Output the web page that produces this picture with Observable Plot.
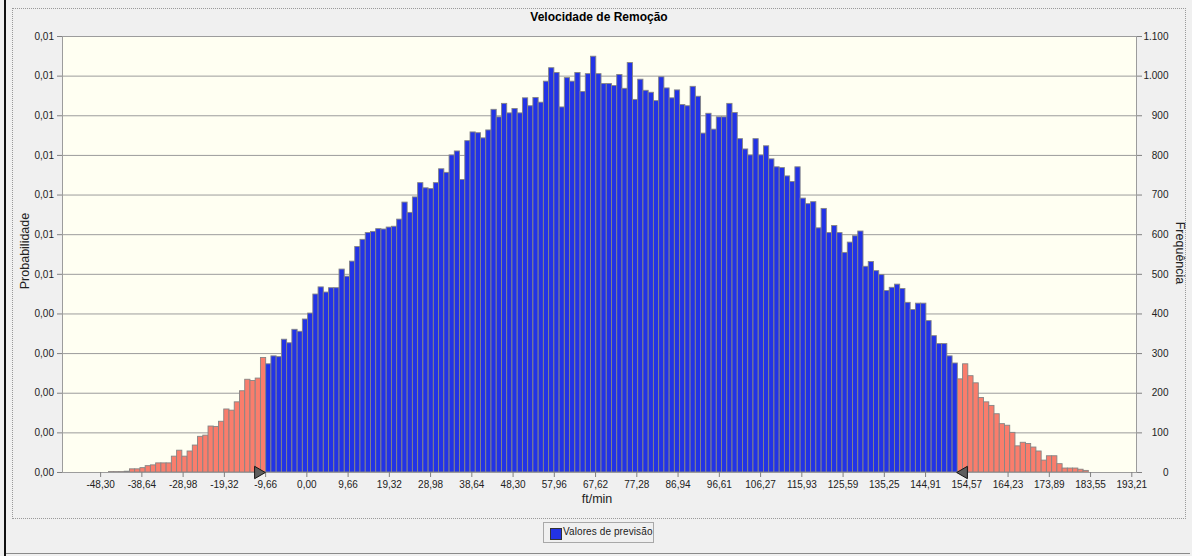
<!DOCTYPE html>
<html>
<head>
<meta charset="utf-8">
<script src="https://cdn.jsdelivr.net/npm/d3@7"></script>
<script src="https://cdn.jsdelivr.net/npm/@observablehq/plot@0.6"></script>
<style>
  html, body { margin: 0; padding: 0; }
  body { width: 1192px; height: 556px; background: #f0f0f0; position: relative; overflow: hidden;
         font-family: "Liberation Sans", Arial, sans-serif; color: #222; }
  .abs { position: absolute; white-space: nowrap; }
  #leftbar { left: 4px; top: 0; width: 2px; height: 556px; background: #111; }
  #frame { left: 12px; top: 8px; width: 1174px; height: 511px; border: 1px dotted #9a9a9a; box-sizing: border-box; }
  #bottomline { left: 6px; top: 553px; width: 1184px; height: 1px; background: #8a8a8a; }
  #title { left: 599px; top: 17px; transform: translate(-50%, -50%); font-weight: bold; font-size: 12px; color: #000; }
  #ylab { left: 25px; top: 251px; transform: translate(-50%, -50%) rotate(-90deg); font-size: 12.5px; }
  #y2lab { left: 1180px; top: 253px; transform: translate(-50%, -50%) rotate(90deg); font-size: 12.5px; }
  #xlab { left: 597px; top: 499px; transform: translate(-50%, -50%); font-size: 12.5px; }
  #chart { left: 0; top: 0; }
  #legend { left: 543px; top: 522px; width: 111px; height: 21px; border: 1px solid #a8a8a8; box-sizing: border-box;
            background: #f0f0f0; font-size: 10px; letter-spacing: 0.1px; }
  #legend .sw { position: absolute; left: 6px; top: 5px; width: 10px; height: 10px; background: #2233e6; border: 1px solid #333; }
  #legend .tx { position: absolute; left: 19px; top: 3px; }
</style>
</head>
<body>
<div class="abs" id="leftbar"></div>
<div class="abs" id="frame"></div>
<div class="abs" id="bottomline"></div>
<div class="abs" id="chart"></div>
<div class="abs" id="title">Velocidade de Remoção</div>
<div class="abs" id="ylab">Probabilidade</div>
<div class="abs" id="y2lab">Frequência</div>
<div class="abs" id="xlab">ft/min</div>
<div class="abs" id="legend"><div class="sw"></div><div class="tx">Valores de previsão</div></div>
<script>
// ---- data ----
const binStart = -46.344;   // lower edge of first bin (ft/min)
const binWidth = 1.2272;    // bin width (ft/min)

// left tail (outside certainty range), 30 bins
const leftTail = [1, 1, 1, 2, 8, 8, 11, 16, 18, 23, 23, 23, 40, 55, 40, 53, 68, 90, 93, 116,
  115, 128, 159, 156, 177, 205, 234, 231, 237, 289];

// certainty range, 132 bins
const center = [
  273, 293, 291, 335, 326, 360, 355, 386, 401, 449,
  467, 454, 465, 465, 512, 494, 532, 569, 587, 604,
  607, 614, 613, 618, 620, 638, 681, 655, 694, 730,
  717, 715, 730, 765, 756, 800, 810, 738, 836, 858,
  856, 843, 863, 915, 896, 930, 906, 917, 906, 944,
  924, 945, 933, 986, 1020, 1008, 921, 995, 986, 1008,
  960, 1005, 1049, 1005, 980, 980, 975, 1003, 968, 1033,
  940, 991, 963, 958, 937, 997, 969, 944, 964, 927,
  924, 973, 948, 855, 905, 865, 896, 896, 930, 907,
  841, 815, 800, 841, 800, 823, 790, 770, 768, 747,
  733, 770, 691, 677, 682, 616, 665, 604, 622, 604,
  554, 580, 596, 608, 519, 531, 508, 498, 458, 466,
  474, 463, 428, 410, 426, 426, 382, 344, 324, 324,
  293, 275];

// right tail (outside certainty range), 25 bins
const rightTail = [235, 273, 243, 225, 188, 177, 168, 147, 122, 118, 100, 66, 75, 72, 63, 53,
  30, 41, 41, 21, 10, 10, 10, 7, 4];

// axis ticks
const xTickValues = [-48.30, -38.64, -28.98, -19.32, -9.66, 0.00, 9.66, 19.32, 28.98, 38.64,
  48.30, 57.96, 67.62, 77.28, 86.94, 96.61, 106.27, 115.93, 125.59, 135.25, 144.91, 154.57,
  164.23, 173.89, 183.55, 193.21];
const yTickValues = [0, 100, 200, 300, 400, 500, 600, 700, 800, 900, 1000, 1100];
const leftTickLabels = ["0,00", "0,00", "0,00", "0,00", "0,00", "0,01", "0,01", "0,01", "0,01", "0,01", "0,01", "0,01"];
const rightTickLabels = ["0", "100", "200", "300", "400", "500", "600", "700", "800", "900", "1.000", "1.100"];

// ---- build bins ----
function toBins(counts, offset) {
  return counts.map((c, i) => {
    const x1 = binStart + (offset + i) * binWidth;
    return {x1, x2: x1 + binWidth, count: c};
  });
}
const leftBins = toBins(leftTail, 0);
const centerBins = toBins(center, leftTail.length);
const rightBins = toBins(rightTail, leftTail.length + center.length);
const certaintyBounds = [
  {x: centerBins[0].x1, rot: 90, dx: -8},
  {x: centerBins[centerBins.length - 1].x2, rot: -90, dx: 6}
];

const barStroke = "#858585";
const chart = Plot.plot({
  width: 1192,
  height: 518,
  marginLeft: 62,
  marginRight: 56,
  marginTop: 36,
  marginBottom: 46,
  x: {domain: [-57.23, 194.31]},
  y: {domain: [0, 1100]},
  style: {background: "transparent", fontFamily: "'Liberation Sans', Arial, sans-serif", fontSize: "10px", color: "#222"},
  marks: [
    Plot.frame({fill: "#fffff2", stroke: null}),
    Plot.gridY(yTickValues, {stroke: "#9c9c9c", strokeOpacity: 1, strokeWidth: 1}),
    Plot.rectY(leftBins, {x1: "x1", x2: "x2", y: "count", fill: "#fa7d6c", stroke: barStroke, strokeWidth: 0.9}),
    Plot.rectY(centerBins, {x1: "x1", x2: "x2", y: "count", fill: "#2233e6", stroke: barStroke, strokeWidth: 0.9}),
    Plot.rectY(rightBins, {x1: "x1", x2: "x2", y: "count", fill: "#fa7d6c", stroke: barStroke, strokeWidth: 0.9}),
    Plot.frame({stroke: "#9c9c9c"}),
    Plot.axisX(xTickValues, {tickSize: 5, tickPadding: 3, stroke: "#808080", fill: "#222",
      tickFormat: d => d.toFixed(2).replace(".", ","), label: null}),
    Plot.axisY(yTickValues, {anchor: "left", tickSize: 5, tickPadding: 3.5, stroke: "#808080", fill: "#222",
      tickFormat: d => leftTickLabels[yTickValues.indexOf(d)], label: null}),
    Plot.axisY(yTickValues, {anchor: "right", tickSize: 5, tickPadding: 27, textAnchor: "end", stroke: "#808080", fill: "#222",
      tickFormat: d => rightTickLabels[yTickValues.indexOf(d)], label: null}),
    Plot.dot(certaintyBounds.filter(d => d.rot > 0), {x: "x", y: () => 0, dx: -8, symbol: "triangle", r: 4.6, rotate: 90,
      fill: "#5e5e5e", stroke: "#151515", strokeWidth: 1}),
    Plot.dot(certaintyBounds.filter(d => d.rot < 0), {x: "x", y: () => 0, dx: 6, symbol: "triangle", r: 4.6, rotate: -90,
      fill: "#5e5e5e", stroke: "#151515", strokeWidth: 1})
  ]
});
document.getElementById("chart").appendChild(chart);
</script>
</body>
</html>
